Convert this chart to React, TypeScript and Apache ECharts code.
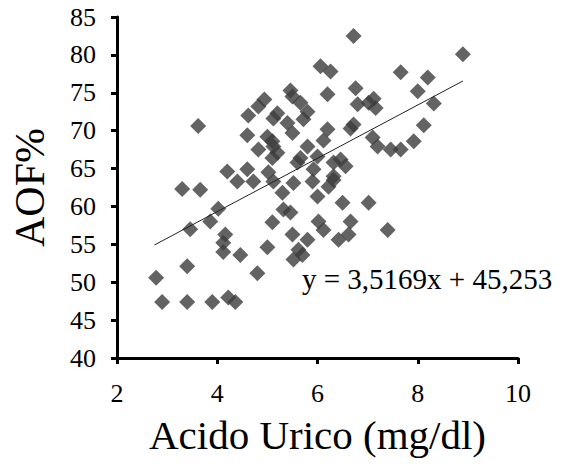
import React, { useEffect, useRef } from "react";
import * as echarts from "echarts";

const uricAcid = [
  2.78, 2.9, 3.4, 3.9, 4.22, 4.36, 3.4, 4.8, 4.46, 4.12,
  4.12, 4.16, 5.0, 3.46, 3.86, 4.02, 3.3, 3.66, 4.4, 4.72,
  5.1, 5.3, 5.32, 5.46, 5.5, 5.62, 5.52, 5.7, 5.8, 6.0,
  6.02, 6.12, 6.42, 6.62, 6.66, 6.5, 7.02, 7.4, 6.22, 5.52,
  3.62, 4.2, 4.6, 5.02, 5.12, 5.9, 6.32, 4.6, 5.0, 5.1,
  5.12, 4.82, 5.2, 5.1, 4.62, 4.82, 4.94, 5.2, 5.12, 5.4,
  5.46, 5.5, 5.66, 5.8, 5.72, 5.5, 5.8, 5.66, 5.6, 6.0,
  5.92, 6.32, 6.46, 6.56, 6.2, 6.12, 6.06, 6.26, 6.2, 6.72,
  6.76, 6.8, 6.72, 6.66, 7.02, 7.12, 7.16, 7.1, 7.2, 7.46,
  7.66, 7.66, 7.92, 8.12, 8.0, 8.2, 8.32, 8.9, 6.32,
];

const aofPercent = [
  50.6, 47.4, 47.4, 47.4, 48.0, 47.4, 52.1, 51.2, 53.6, 54.0,
  55.2, 56.3, 54.6, 57.0, 58.0, 59.7, 62.3, 62.2, 63.3, 63.3,
  57.9, 61.8, 59.6, 59.2, 56.3, 54.3, 53.0, 53.6, 55.6, 61.3,
  58.0, 56.9, 55.6, 56.3, 58.0, 60.5, 60.5, 56.9, 62.6, 63.1,
  70.6, 64.6, 64.9, 64.5, 63.3, 63.3, 64.0, 69.4, 69.2, 68.6,
  67.9, 67.5, 67.1, 66.4, 72.0, 73.2, 74.1, 72.3, 71.6, 71.0,
  75.3, 74.5, 73.7, 72.5, 71.5, 69.7, 67.9, 66.4, 65.8, 66.6,
  64.9, 65.8, 66.2, 65.3, 70.2, 68.7, 78.5, 77.8, 74.8, 82.5,
  75.6, 73.5, 70.8, 70.3, 73.7, 74.2, 73.0, 69.1, 67.9, 67.5,
  67.5, 77.7, 68.6, 70.7, 75.2, 77.0, 73.6, 80.1, 63.5,
];

const trendSlope = 3.5169;
const trendIntercept = 45.253;
const trendRange = [2.75, 8.9];
const equationLabel = "y = 3,5169x + 45,253";
const xAxisTitle = "Acido Urico (mg/dl)";
const yAxisTitle = "AOF%";

export default function App() {
  const ref = useRef<HTMLDivElement>(null);

  useEffect(() => {
    if (!ref.current) return;
    const chart = echarts.init(ref.current, undefined, { renderer: "svg" });
    const points = uricAcid.map((x, i) => [x, aofPercent[i]]);
    const trend = trendRange.map((x) => [x, trendSlope * x + trendIntercept]);
    const times = "Liberation Serif";
    const axisLine = { show: true, lineStyle: { color: "#000", width: 3 } };
    const axisTick = { show: true, length: 6, inside: false, lineStyle: { color: "#000", width: 3 } };
    chart.setOption({
      animation: false,
      backgroundColor: "#fff",
      grid: { left: 117, right: 45, top: 17, bottom: 110, containLabel: false },
      xAxis: {
        type: "value",
        min: 2,
        max: 10,
        interval: 2,
        name: xAxisTitle,
        nameLocation: "middle",
        nameGap: 56,
        nameTextStyle: { fontFamily: times, fontSize: 41, color: "#000" },
        axisLine,
        axisTick,
        axisLabel: { fontFamily: times, fontSize: 26, color: "#000", margin: 22 },
        splitLine: { show: false },
      },
      yAxis: {
        type: "value",
        min: 40,
        max: 85,
        interval: 5,
        name: yAxisTitle,
        nameLocation: "middle",
        nameGap: 66,
        nameTextStyle: { fontFamily: times, fontSize: 42, color: "#000" },
        axisLine,
        axisTick,
        axisLabel: { fontFamily: times, fontSize: 26, color: "#000", margin: 21 },
        splitLine: { show: false },
      },
      series: [
        {
          type: "scatter",
          data: points,
          symbol: "diamond",
          symbolSize: 16,
          itemStyle: { color: "#3c3c3c" },
          z: 2,
        },
        {
          type: "line",
          data: trend,
          showSymbol: false,
          symbol: "none",
          lineStyle: { color: "#222", width: 1 },
          z: 3,
        },
      ],
      graphic: [
        {
          type: "text",
          left: 302,
          top: 264,
          style: {
            text: equationLabel,
            fontFamily: times,
            fontSize: 29,
            fill: "#000",
          },
        },
      ],
    });
    return () => chart.dispose();
  }, []);

  return (
    <div
      ref={ref}
      style={{ position: "fixed", left: 0, top: 0, width: 563, height: 468, background: "#fff" }}
    />
  );
}
